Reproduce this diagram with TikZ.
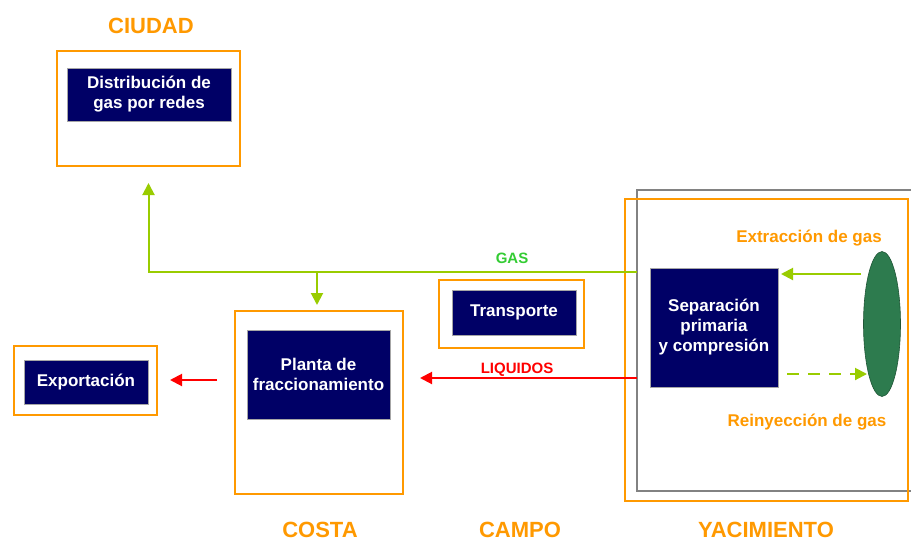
\documentclass[tikz,border=0pt]{standalone}
\usepackage{fontspec}
\setmainfont{Liberation Sans}
\usetikzlibrary{arrows.meta,shapes.geometric}
\definecolor{navy}{RGB}{0,0,102}
\definecolor{orng}{RGB}{255,153,0}
\definecolor{gasgreen}{RGB}{153,204,0}
\definecolor{gastext}{RGB}{51,204,51}
\definecolor{liqred}{RGB}{255,0,0}
\definecolor{resgreen}{RGB}{45,123,78}
\definecolor{frameGray}{RGB}{130,130,130}
\tikzset{
  frame/.style={draw=orng, line width=2pt, inner sep=0pt, outer sep=0pt},
  grayframe/.style={draw=frameGray, line width=1.5pt, inner sep=0pt, outer sep=0pt},
  navybox/.style={fill=navy, draw=gray!70, line width=0.6pt, text=white,
    font=\fontsize{17}{20}\selectfont\bfseries, align=center,
    inner sep=0pt, outer sep=0pt},
  zone/.style={text=orng, font=\fontsize{22}{24}\selectfont\bfseries, anchor=base, inner sep=0pt},
  note/.style={text=orng, font=\fontsize{17}{20}\selectfont\bfseries, anchor=base, inner sep=0pt},
  flowlbl/.style={font=\fontsize{15}{17}\selectfont\bfseries, anchor=base, inner sep=0pt},
  gasline/.style={draw=gasgreen, line width=2pt},
  liqline/.style={draw=liqred, line width=2pt},
  tip/.style={-{Triangle[length=12pt,width=12pt]}}
}
\begin{document}
\begin{tikzpicture}[x=1pt,y=-1pt]
  \path[use as bounding box, fill=white] (0,0) rectangle (911,542);

  % zone frames
  \node[frame, minimum width=183, minimum height=115] (ciudad) at (148.5,108.5) {};
  \node[frame, minimum width=168, minimum height=183] (costa) at (319,402.5) {};
  \node[frame, minimum width=143, minimum height=69] (expf) at (85.5,380.5) {};
  \node[frame, minimum width=145, minimum height=68] (campo) at (511.5,314) {};
  \node[grayframe, minimum width=280, minimum height=301] (yacbox) at (777,340.5) {};
  \node[frame, minimum width=283, minimum height=302] (yacim) at (766.5,350) {};

  % process boxes
  \node[navybox, minimum width=164, minimum height=53] (dist) at (149,94.5) {Distribución de\\gas por redes};
  \node[navybox, minimum width=143, minimum height=89] (planta) at (318.5,374.5) {Planta de\\fraccionamiento};
  \node[navybox, minimum width=124, minimum height=44] (export) at (86,382) {Exportación};
  \node[navybox, minimum width=124, minimum height=45] (transp) at (514,312.5) {Transporte};
  \node[navybox, minimum width=128, minimum height=119] (sep) at (714,327.5) {Separación\\primaria\\y compresión};

  % reservoir
  \node[ellipse, fill=resgreen, draw=resgreen!70!black, line width=0.6pt,
        minimum width=37, minimum height=145, inner sep=0pt] (res) at (882,324) {};

  % zone titles
  \node[zone] (tciudad) at (151,33) {CIUDAD};
  \node[zone] (tcosta) at (320,537) {COSTA};
  \node[zone] (tcampo) at (520,537) {CAMPO};
  \node[zone] (tyac) at (766,537) {YACIMIENTO};

  % flow labels
  \node[flowlbl, text=gastext] (tgas) at (512,263) {GAS};
  \node[flowlbl, text=liqred] (tliq) at (517,373) {LIQUIDOS};
  \node[note] (textr) at (809,242) {Extracción de gas};
  \node[note] (treiny) at (807,426) {Reinyección de gas};

  % gas line towards the city and the coast
  \coordinate (gasstart) at (yacbox.west |- 0,272);
  \coordinate (gasend) at ([yshift=-17pt]ciudad.south);
  \draw[gasline, tip] (gasstart) -| (gasend);
  \coordinate (gasdrop) at (317,272);
  \draw[gasline, tip] (gasdrop) -- ([yshift=6pt]gasdrop |- costa.north);

  % liquids line towards the coast, then export
  \coordinate (liqstart) at (yacbox.west |- 0,378);
  \draw[liqline, tip] (liqstart) -- ([xshift=17pt]liqstart -| costa.east);
  \coordinate (expstart) at (217,380);
  \draw[liqline, tip] (expstart) -- ([xshift=13pt]expstart -| expf.east);

  % extraction and reinjection
  \coordinate (extr) at (861,274);
  \draw[gasline, tip, shorten >=3pt] (extr) -- (extr -| sep.east);
  \coordinate (reinj) at (867,374);
  \draw[gasline, tip, dash pattern=on 12pt off 9pt, shorten <=9pt] (reinj -| sep.east) -- (reinj);
\end{tikzpicture}
\end{document}
